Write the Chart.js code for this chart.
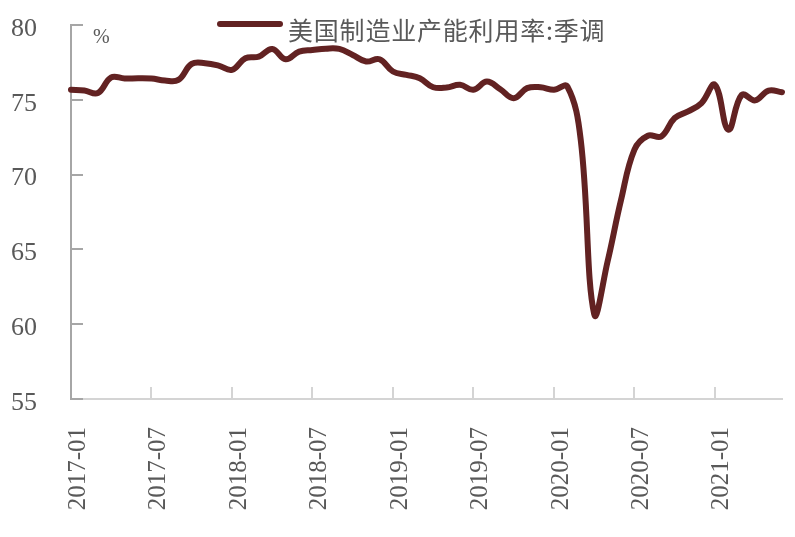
<!DOCTYPE html>
<html>
<head>
<meta charset="utf-8">
<script src="https://cdn.jsdelivr.net/npm/chart.js@4/dist/chart.umd.min.js"></script>
<style>
  html, body { margin: 0; padding: 0; background: #ffffff; }
  #wrap { position: relative; width: 795px; height: 537px; overflow: hidden; }
  #legLine { position: absolute; left: 217px; top: 21px; width: 66px; height: 6px; border-radius: 3px; background: #622222; }
  #legText { position: absolute; left: 288px; top: 13px; font-family: "Noto Sans CJK SC", sans-serif; font-size: 25px; letter-spacing: 0.8px; line-height: 32px; color: #595959; white-space: nowrap; }
  #unit { position: absolute; left: 93px; top: 25px; font-family: "Liberation Serif", serif; font-size: 20px; color: #595959; }
</style>
</head>
<body>
<div id="wrap">
  <canvas id="c" width="795" height="537"></canvas>
  <div id="legLine"></div>
  <div id="legText">美国制造业产能利用率:季调</div>
  <div id="unit">%</div>
</div>
<script>
// Categories: months 2017-01 .. 2021-06
const months = [
  "2017-01","2017-02","2017-03","2017-04","2017-05","2017-06","2017-07","2017-08","2017-09","2017-10","2017-11","2017-12",
  "2018-01","2018-02","2018-03","2018-04","2018-05","2018-06","2018-07","2018-08","2018-09","2018-10","2018-11","2018-12",
  "2019-01","2019-02","2019-03","2019-04","2019-05","2019-06","2019-07","2019-08","2019-09","2019-10","2019-11","2019-12",
  "2020-01","2020-02","2020-03","2020-04","2020-05","2020-06","2020-07","2020-08","2020-09","2020-10","2020-11","2020-12",
  "2021-01","2021-02","2021-03","2021-04","2021-05","2021-06"
];
// 美国制造业产能利用率:季调 (%)
const utilization = [
  75.67, 75.62, 75.45, 76.50, 76.42, 76.44, 76.42, 76.29, 76.33, 77.40, 77.45, 77.29,
  77.00, 77.78, 77.89, 78.40, 77.71, 78.22, 78.33, 78.42, 78.40, 78.00, 77.56, 77.71,
  76.89, 76.67, 76.44, 75.84, 75.82, 76.00, 75.67, 76.22, 75.71, 75.11, 75.78, 75.84,
  75.67, 75.89, 72.30, 60.67, 64.20, 68.30, 71.67, 72.60, 72.55, 73.78, 74.22, 74.78,
  76.00, 73.00, 75.33, 74.96, 75.62, 75.51
];
const yTicks = [55, 60, 65, 70, 75, 80];
const seriesName = "美国制造业产能利用率:季调";

const LINE_COLOR = "#622222";
const TEXT_COLOR = "#595959";

const tickMarks = {
  id: "tickMarks",
  afterDraw(chart) {
    const ctx = chart.ctx;
    const x = chart.scales.x, y = chart.scales.y;
    const area = chart.chartArea;
    ctx.save();
    ctx.lineWidth = 2;
    ctx.strokeStyle = "#a6a6a6";
    yTicks.forEach(v => {
      const py = Math.round(y.getPixelForValue(v));
      ctx.beginPath();
      ctx.moveTo(area.left, py);
      ctx.lineTo(area.left + 12, py);
      ctx.stroke();
    });
    ctx.strokeStyle = "#d4d4d4";
    months.forEach((m, i) => {
      if (i % 6 !== 0 || i === 0) return;
      const px = Math.round(x.getPixelForValue(i));
      ctx.beginPath();
      ctx.moveTo(px, area.bottom);
      ctx.lineTo(px, area.bottom - 12);
      ctx.stroke();
    });
    ctx.restore();
  }
};

new Chart(document.getElementById("c"), {
  type: "line",
  data: {
    labels: months,
    datasets: [{
      label: seriesName,
      data: utilization,
      borderColor: LINE_COLOR,
      backgroundColor: LINE_COLOR,
      borderWidth: 6,
      pointRadius: 0,
      tension: 0.4,
      borderCapStyle: "round",
      borderJoinStyle: "round",
      fill: false
    }]
  },
  options: {
    responsive: false,
    animation: false,
    layout: { padding: { top: 25, right: 13, left: 0, bottom: 0 } },
    plugins: { legend: { display: false }, tooltip: { enabled: false } },
    scales: {
      x: {
        type: "category",
        offset: false,
        grid: { display: false, drawTicks: false },
        border: { display: true, color: "#d4d4d4", width: 2 },
        ticks: {
          autoSkip: false,
          minRotation: 90,
          maxRotation: 90,
          padding: 28,
          labelOffset: 7,
          color: TEXT_COLOR,
          font: { family: "Liberation Serif", size: 25 },
          callback: function(val, idx) { return idx % 6 === 0 ? months[idx] : ""; }
        },
        afterFit(scale) {
          scale.height = 138;
          scale.paddingLeft = 0; scale.paddingRight = 0;
          scale.paddingTop = 0; scale.paddingBottom = 0;
        }
      },
      y: {
        min: 55,
        max: 80,
        grid: { display: false, drawTicks: false },
        border: { display: true, color: "#a6a6a6", width: 2 },
        ticks: {
          stepSize: 5,
          padding: 34,
          labelOffset: 4,
          color: TEXT_COLOR,
          font: { family: "Liberation Serif", size: 26 }
        },
        afterFit(scale) {
          scale.width = 71;
          scale.paddingTop = 0; scale.paddingBottom = 0;
          scale.paddingLeft = 0; scale.paddingRight = 0;
        }
      }
    }
  },
  plugins: [tickMarks]
});
</script>
</body>
</html>
